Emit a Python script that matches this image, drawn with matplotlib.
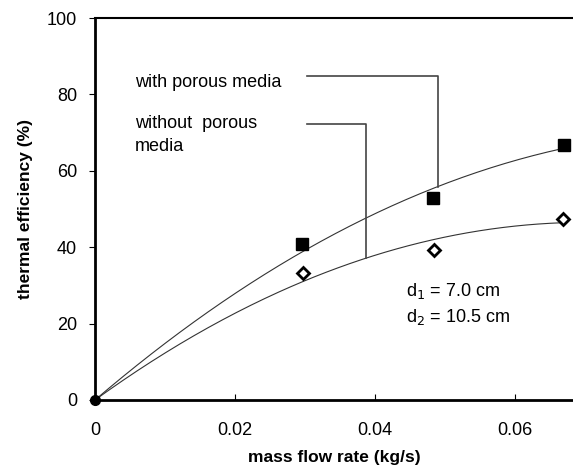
import numpy as np
import matplotlib
matplotlib.use("Agg")
import matplotlib.pyplot as plt

plt.rcParams['font.family'] = ['Liberation Sans', 'DejaVu Sans']

flow_porous = [0.0, 0.0296, 0.0483, 0.0670]
eff_porous = [0.0, 40.8, 52.9, 66.8]
flow_plain = [0.0, 0.0297, 0.0484, 0.0669]
eff_plain = [0.0, 33.2, 39.3, 47.4]
x_ticks = [0, 0.02, 0.04, 0.06]
x_tick_labels = ['0', '0.02', '0.04', '0.06']
y_ticks = [0, 20, 40, 60, 80, 100]


def trend(x, y):
    # second order trend line forced through the origin
    x = np.asarray(x)
    A = np.column_stack([x, x ** 2])
    coef, *_ = np.linalg.lstsq(A, np.asarray(y), rcond=None)
    return lambda t: coef[0] * t + coef[1] * t ** 2


fig = plt.figure(figsize=(5.73, 4.68), dpi=100)
ax = fig.add_axes([0.1658, 0.1453, 0.8342, 0.8162])

fit_p = trend(flow_porous, eff_porous)
fit_n = trend(flow_plain, eff_plain)
xs = np.linspace(0, 0.067, 200)
ax.plot(xs, fit_p(xs), color='#333333', lw=0.8)
ax.plot(xs, fit_n(xs), color='#333333', lw=0.8)

ax.plot(flow_porous[1:], eff_porous[1:], ls='none', marker='s', ms=9,
        color='black')
ax.plot(flow_plain[1:], eff_plain[1:], ls='none', marker='D', ms=6.5,
        mfc='white', mec='black', mew=2)
ax.plot([0], [0], ls='none', marker='o', ms=7, color='black', clip_on=False)

# leader lines for the labels
xa = 0.0387
xb = 0.0490
ax.plot([0.0303, xb, xb], [84.8, 84.8, fit_p(xb)], color='#444444', lw=1.2)
ax.plot([0.0303, xa, xa], [72.2, 72.2, fit_n(xa)], color='#444444', lw=1.2)

txt = 13
ax.text(0.0057, 83.0, 'with porous media', fontsize=txt, va='center')
ax.text(0.0057, 69.4, 'without  porous\nmedia', fontsize=txt, va='center',
        linespacing=1.4)
ax.text(0.0445, 28.5, 'd$_1$ = 7.0 cm', fontsize=txt, va='center')
ax.text(0.0445, 21.7, 'd$_2$ = 10.5 cm', fontsize=txt, va='center')

ax.set_xlim(0, 0.0683)
ax.set_ylim(0, 100)
ax.set_xticks(x_ticks)
ax.set_xticklabels(x_tick_labels)
ax.set_yticks(y_ticks)
ax.tick_params(axis='x', direction='in', length=4, labelsize=txt, pad=16)
ax.tick_params(axis='y', direction='out', length=4, labelsize=txt, pad=9)
ax.spines['right'].set_visible(False)
ax.spines['left'].set_linewidth(2)
ax.spines['bottom'].set_linewidth(2)
ax.spines['top'].set_linewidth(1.5)

ax.set_xlabel('mass flow rate (kg/s)', fontsize=12.5, fontweight='bold',
              labelpad=8)
ax.set_ylabel('thermal efficiency (%)', fontsize=12.5, fontweight='bold',
              labelpad=10)

fig.savefig('out.png', dpi=100)
